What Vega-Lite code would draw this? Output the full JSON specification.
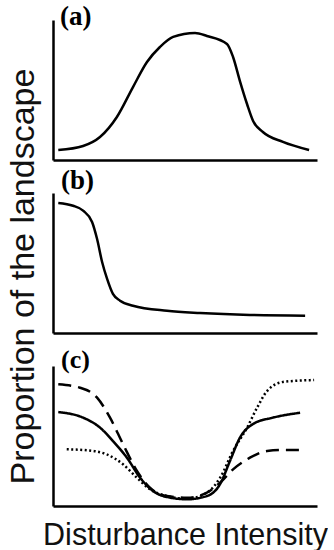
{
  "$schema": "https://vega.github.io/schema/vega-lite/v6.json",
  "background": "white",
  "padding": {"left": 5, "top": 3, "right": 0, "bottom": 0},
  "spacing": 33,
  "bounds": "flush",
  "config": {
    "view": {"stroke": null},
    "axis": {"domainColor": "black", "domainWidth": 2.5, "ticks": false, "labels": false, "grid": false}
  },
  "datasets": {
    "a": [
      {"x": 2.0, "y": 7.1}, {"x": 11.4, "y": 10}, {"x": 17.8, "y": 16.4}, {"x": 24.2, "y": 30.7},
      {"x": 30.3, "y": 52.1}, {"x": 35.6, "y": 70}, {"x": 40.5, "y": 80.7}, {"x": 45.5, "y": 87.9},
      {"x": 53.8, "y": 90.7}, {"x": 58.3, "y": 88.6}, {"x": 65.9, "y": 82.9}, {"x": 68.2, "y": 73.6},
      {"x": 70.8, "y": 56.4}, {"x": 73.5, "y": 40}, {"x": 75.8, "y": 27.9}, {"x": 79.5, "y": 20},
      {"x": 87.1, "y": 12.9}, {"x": 97, "y": 7.1}
    ],
    "b": [
      {"x": 2.0, "y": 92.9}, {"x": 7.6, "y": 90.9}, {"x": 11.4, "y": 87.4}, {"x": 14.8, "y": 79.3},
      {"x": 16.7, "y": 67.1}, {"x": 18.6, "y": 50.7}, {"x": 20.5, "y": 38.6}, {"x": 22.7, "y": 27.9},
      {"x": 25.4, "y": 23.1}, {"x": 30.3, "y": 19.5}, {"x": 43.2, "y": 15.9}, {"x": 55.7, "y": 14.3},
      {"x": 74.6, "y": 12.9}, {"x": 95.5, "y": 12.4}
    ],
    "c": [
      {"s": "solid", "x": 2.0, "y": 67.1}, {"s": "solid", "x": 11.4, "y": 63.1}, {"s": "solid", "x": 17.8, "y": 56},
      {"s": "solid", "x": 22.7, "y": 46.4}, {"s": "solid", "x": 28, "y": 34.5}, {"s": "solid", "x": 33, "y": 20.2},
      {"s": "solid", "x": 37.9, "y": 10.7}, {"s": "solid", "x": 43.2, "y": 6.4}, {"s": "solid", "x": 50.8, "y": 4.8},
      {"s": "solid", "x": 58.3, "y": 7.1}, {"s": "solid", "x": 63.3, "y": 15.7}, {"s": "solid", "x": 67, "y": 32},
      {"s": "solid", "x": 70.8, "y": 48.8}, {"s": "solid", "x": 75.8, "y": 58.6}, {"s": "solid", "x": 83.3, "y": 63.1},
      {"s": "solid", "x": 93.6, "y": 66.6},
      {"s": "dashed", "x": 2, "y": 86.9}, {"s": "dashed", "x": 10.2, "y": 84.5}, {"s": "dashed", "x": 16.7, "y": 77.4},
      {"s": "dashed", "x": 21.6, "y": 63.1}, {"s": "dashed", "x": 26.5, "y": 44.3}, {"s": "dashed", "x": 31.8, "y": 25},
      {"s": "dashed", "x": 36.7, "y": 13.1}, {"s": "dashed", "x": 43.2, "y": 7.1}, {"s": "dashed", "x": 50.8, "y": 5.9},
      {"s": "dashed", "x": 58.3, "y": 9.5}, {"s": "dashed", "x": 63.3, "y": 16.7}, {"s": "dashed", "x": 68.2, "y": 26.2},
      {"s": "dashed", "x": 74.6, "y": 34.5}, {"s": "dashed", "x": 81.1, "y": 39.3}, {"s": "dashed", "x": 87.1, "y": 40},
      {"s": "dashed", "x": 94.7, "y": 40},
      {"s": "dotted", "x": 5.2, "y": 40.5}, {"s": "dotted", "x": 12.8, "y": 39.8}, {"s": "dotted", "x": 20.3, "y": 36.9},
      {"s": "dotted", "x": 26.5, "y": 29.8}, {"s": "dotted", "x": 31.8, "y": 20.2}, {"s": "dotted", "x": 36.7, "y": 11.9},
      {"s": "dotted", "x": 43.2, "y": 7.1}, {"s": "dotted", "x": 50.8, "y": 5.2}, {"s": "dotted", "x": 58.3, "y": 9.5},
      {"s": "dotted", "x": 63.3, "y": 20.2}, {"s": "dotted", "x": 68.2, "y": 39.3}, {"s": "dotted", "x": 73.5, "y": 55.9},
      {"s": "dotted", "x": 77.3, "y": 70.2}, {"s": "dotted", "x": 81.1, "y": 82.1}, {"s": "dotted", "x": 87.1, "y": 88.6},
      {"s": "dotted", "x": 98.9, "y": 90}
    ],
    "labels": [
      {"panel": "a", "label": "(a)", "x": 0, "y": 100},
      {"panel": "b", "label": "(b)", "x": 0, "y": 100},
      {"panel": "c", "label": "(c)", "x": 0, "y": 100}
    ]
  },
  "vconcat": [
    {
      "width": 264, "height": 140,
      "layer": [
        {"data": {"name": "a"}, "mark": {"type": "line", "interpolate": "monotone", "color": "black", "strokeWidth": 2.5},
         "encoding": {
           "x": {"field": "x", "type": "quantitative", "scale": {"domain": [0, 100]}, "axis": {"title": null}},
           "y": {"field": "y", "type": "quantitative", "scale": {"domain": [0, 100]}, "axis": {"title": null}}
         }},
        {"data": {"name": "labels"}, "transform": [{"filter": "datum.panel === 'a'"}],
         "mark": {"type": "text", "dx": 7, "dy": 5, "align": "left", "baseline": "alphabetic", "font": "Liberation Serif", "fontWeight": "bold", "fontSize": 27, "color": "black"},
         "encoding": {"x": {"field": "x", "type": "quantitative"}, "y": {"field": "y", "type": "quantitative"}, "text": {"field": "label"}}}
      ]
    },
    {
      "width": 264, "height": 140,
      "layer": [
        {"data": {"name": "b"}, "mark": {"type": "line", "interpolate": "monotone", "color": "black", "strokeWidth": 2.5},
         "encoding": {
           "x": {"field": "x", "type": "quantitative", "scale": {"domain": [0, 100]}, "axis": {"title": null}},
           "y": {"field": "y", "type": "quantitative", "scale": {"domain": [0, 100]},
             "axis": {"title": "Proportion of the landscape", "titleFont": "Liberation Sans", "titleFontSize": 34, "titleFontWeight": "normal", "titleColor": "#111", "titleBaseline": "alphabetic", "titleX": -20, "titleY": 83, "titleAngle": 270}}
         }},
        {"data": {"name": "labels"}, "transform": [{"filter": "datum.panel === 'b'"}],
         "mark": {"type": "text", "dx": 8, "dy": -4, "align": "left", "baseline": "alphabetic", "font": "Liberation Serif", "fontWeight": "bold", "fontSize": 27, "color": "black"},
         "encoding": {"x": {"field": "x", "type": "quantitative"}, "y": {"field": "y", "type": "quantitative"}, "text": {"field": "label"}}}
      ]
    },
    {
      "width": 264, "height": 140,
      "layer": [
        {"data": {"name": "c"}, "mark": {"type": "line", "interpolate": "monotone", "color": "black", "strokeWidth": 2.5},
         "encoding": {
           "x": {"field": "x", "type": "quantitative", "scale": {"domain": [0, 100]},
             "axis": {"title": "Disturbance Intensity", "titleFont": "Liberation Sans", "titleFontSize": 30.5, "titleFontWeight": "normal", "titleColor": "#111", "titleBaseline": "alphabetic", "titlePadding": 38}},
           "y": {"field": "y", "type": "quantitative", "scale": {"domain": [0, 100]}, "axis": {"title": null}},
           "detail": {"field": "s"},
           "strokeDash": {"field": "s", "type": "nominal", "legend": null,
             "scale": {"domain": ["solid", "dashed", "dotted"], "range": [[1, 0], [13, 7], [2, 2.5]]}}
         }},
        {"data": {"name": "labels"}, "transform": [{"filter": "datum.panel === 'c'"}],
         "mark": {"type": "text", "dx": 8, "dy": 2, "align": "left", "baseline": "alphabetic", "font": "Liberation Serif", "fontWeight": "bold", "fontSize": 26, "color": "black"},
         "encoding": {"x": {"field": "x", "type": "quantitative"}, "y": {"field": "y", "type": "quantitative"}, "text": {"field": "label"}}}
      ]
    }
  ]
}
